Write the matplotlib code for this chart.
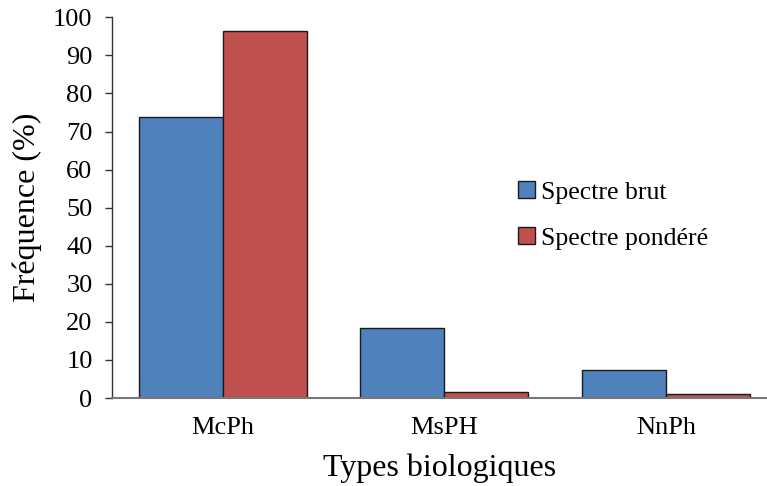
import matplotlib
matplotlib.use("Agg")
import matplotlib.pyplot as plt
import numpy as np

categories = ["McPh", "MsPH", "NnPh"]
spectre_brut = [73.9, 18.3, 7.3]
spectre_pondere = [96.5, 1.6, 1.1]
series_labels = ["Spectre brut", "Spectre pondéré"]
yticks = [0, 10, 20, 30, 40, 50, 60, 70, 80, 90, 100]

plt.rcParams['font.family'] = ['Liberation Serif', 'DejaVu Serif']

fig = plt.figure(figsize=(7.67, 4.86), dpi=100)
ax = fig.add_axes([112/767, 1-398/486, 1-112/767, (398-17.3)/486])

x = np.arange(len(categories))
w = 0.38
ax.bar(x - w/2, spectre_brut, w, color="#4F81BD", edgecolor="#1a1a1a", linewidth=1.0, label=series_labels[0])
ax.bar(x + w/2, spectre_pondere, w, color="#C0504D", edgecolor="#1a1a1a", linewidth=1.0, label=series_labels[1])

ax.set_xlim(-0.5, 2.457)
ax.set_ylim(0, 100)
ax.set_yticks(yticks)
ax.set_xticks(x)
ax.set_xticklabels(categories)
ax.tick_params(axis='y', direction='out', length=5, width=1, colors='#333333', labelcolor='black', labelsize=19, pad=9)
ax.tick_params(axis='x', length=0, labelsize=19, pad=14)
for s in ['top', 'right']:
    ax.spines[s].set_visible(False)
ax.spines['left'].set_color('#333333')
ax.spines['bottom'].set_color('#777777')
ax.spines['left'].set_linewidth(1)
ax.spines['bottom'].set_linewidth(1.5)

ax.set_ylabel("Fréquence (%)", fontsize=23, labelpad=8)
ax.set_xlabel("Types biologiques", fontsize=23, labelpad=10)

leg = fig.legend(loc='upper left', bbox_to_anchor=(508/767, 1-171/486), frameon=False,
                 fontsize=18.5, handlelength=0.65, handleheight=0.65, handletextpad=0.25,
                 labelspacing=0.9, borderaxespad=0)

fig.savefig("out.png", dpi=100)
